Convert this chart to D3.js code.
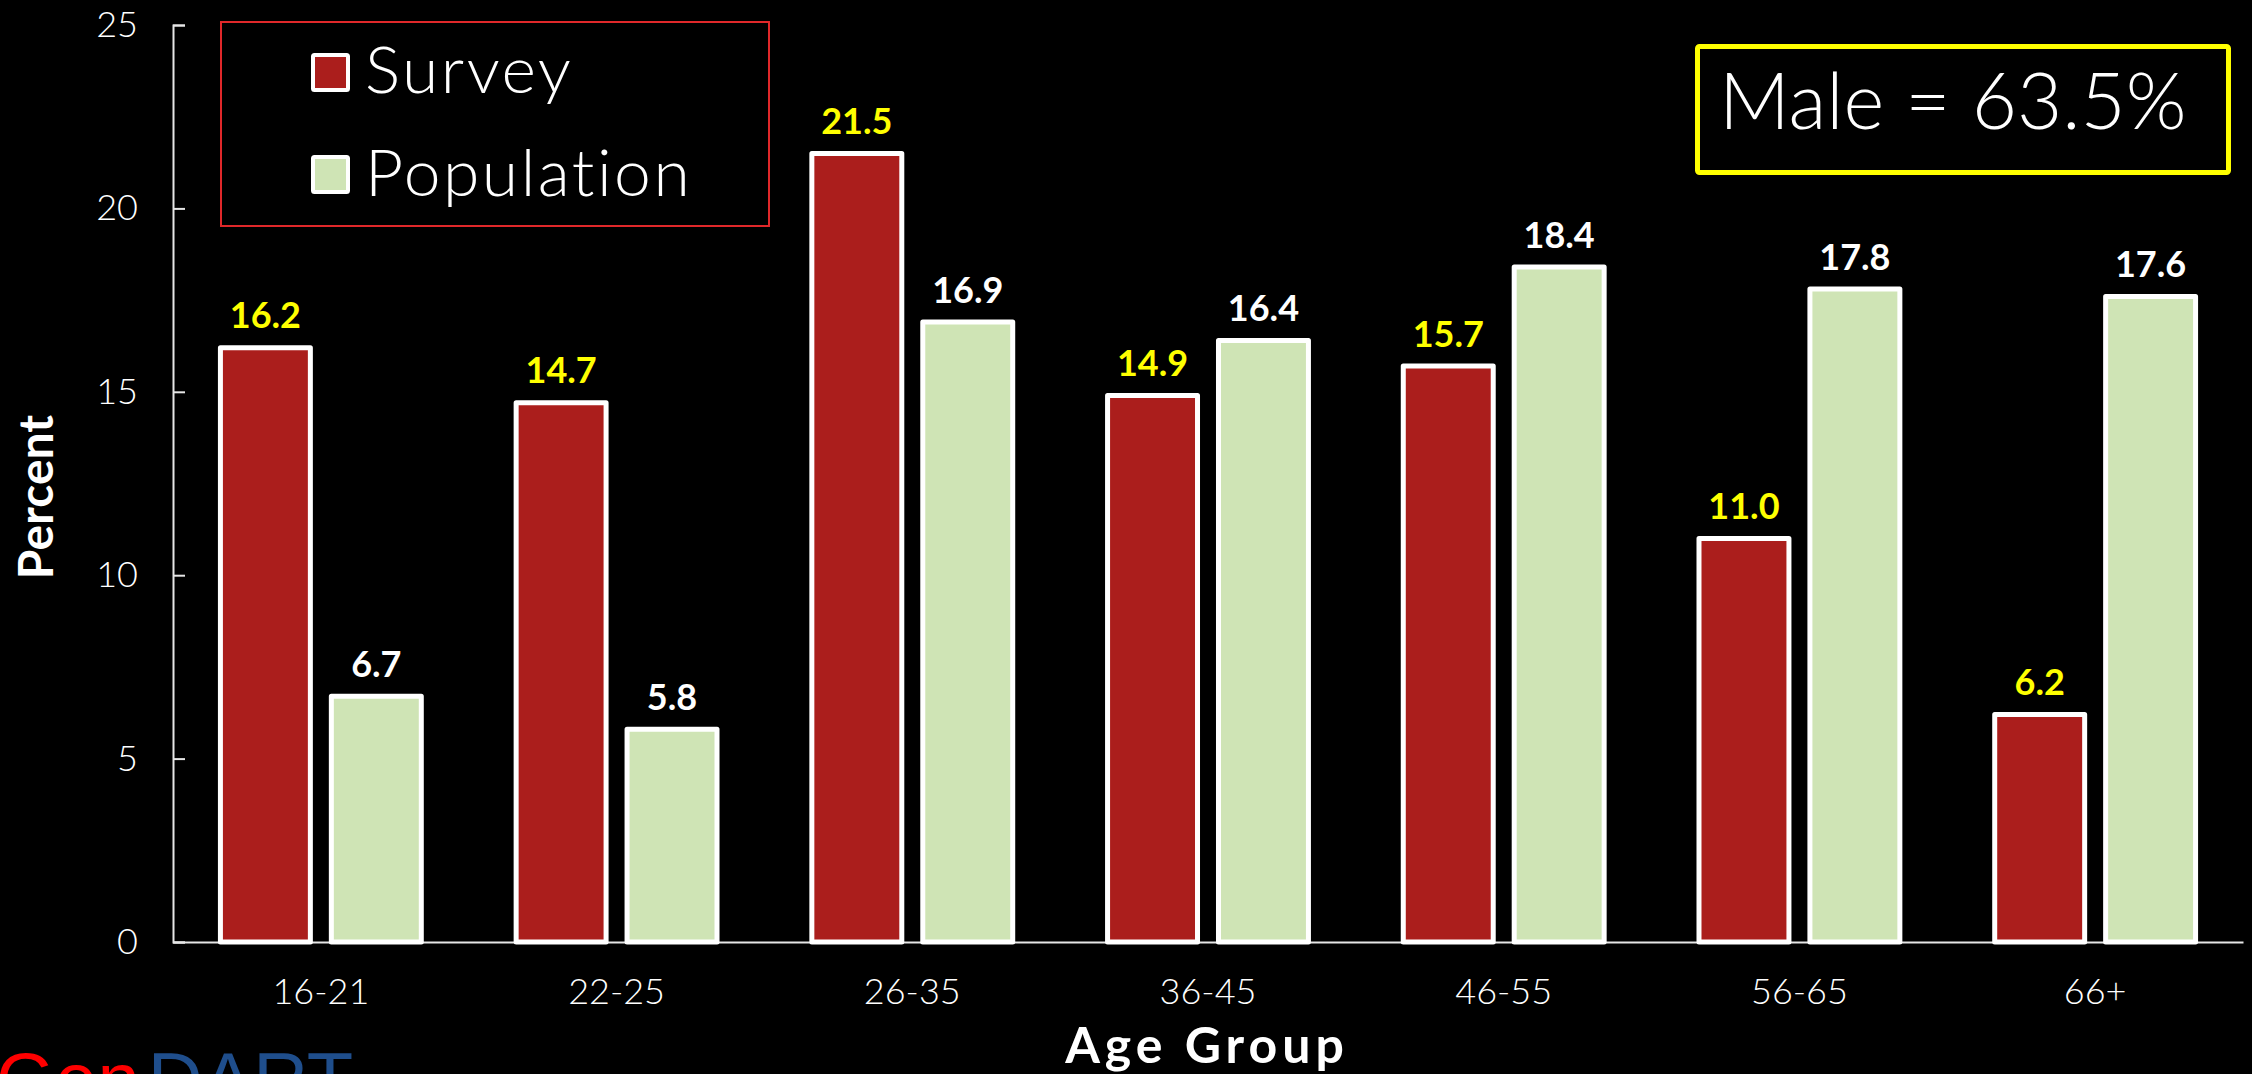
<!DOCTYPE html>
<html><head><meta charset="utf-8">
<script src="https://cdn.jsdelivr.net/npm/d3@7"></script>
<style>html,body{margin:0;padding:0;background:#000;}svg{display:block;}</style>
</head><body>
<script>
const categories = ["16-21","22-25","26-35","36-45","46-55","56-65","66+"];
const seriesNames = ["Survey","Population"];
const surveyValues = [16.2,14.7,21.5,14.9,15.7,11.0,6.2];
const populationValues = [6.7,5.8,16.9,16.4,18.4,17.8,17.6];
const yTicks = [0,5,10,15,20,25];
const seriesColors = {Survey:"#ab1e1c", Population:"#cfe4b5"};
const labelColors = {Survey:"#ffff00", Population:"#ffffff"};

const W = 2252, H = 1074;
const FONT = "Lato, 'Open Sans', sans-serif";
const svg = d3.select("body").append("svg").attr("width",W).attr("height",H);
svg.append("rect").attr("width",W).attr("height",H).attr("fill","#000");

const y = d3.scaleLinear().domain([0,25]).range([942,25]);
const x0 = d3.scaleBand().domain(categories).range([173,2243]).padding(0);
const x1 = d3.scaleBand().domain(seriesNames).range([0,x0.bandwidth()]).paddingInner(0.144).paddingOuter(0.405);

const data = categories.map((c,i)=>({cat:c, vals:[{s:"Survey",v:surveyValues[i]},{s:"Population",v:populationValues[i]}]}));

// y axis
const yAxis = d3.axisLeft(y).tickValues(yTicks).tickSizeInner(-12).tickSizeOuter(-12).tickPadding(35);
const gy = svg.append("g").attr("transform","translate(173,0)").call(yAxis);
gy.selectAll("path,line").attr("stroke","#e6e6e6").attr("stroke-width",2);
gy.selectAll("text").attr("fill","#fff").attr("font-size",36).attr("font-family",FONT).attr("font-weight",300);

// x axis
const xAxis = d3.axisBottom(x0).tickSize(0).tickSizeOuter(0).tickPadding(36);
const gx = svg.append("g").attr("transform","translate(0,942)").call(xAxis);
gx.select(".domain").attr("stroke","#e6e6e6").attr("stroke-width",2);
gx.selectAll("text").attr("fill","#fff").attr("font-size",36).attr("font-family",FONT).attr("font-weight",300);

// bars
const groups = svg.append("g").selectAll("g").data(data).join("g")
  .attr("transform",d=>`translate(${x0(d.cat)},0)`);
groups.selectAll("rect").data(d=>d.vals).join("rect")
  .attr("x",d=>x1(d.s)+2.5)
  .attr("width",x1.bandwidth()-5)
  .attr("y",d=>y(d.v))
  .attr("height",d=>y(0)-y(d.v))
  .attr("fill",d=>seriesColors[d.s])
  .attr("stroke","#fff").attr("stroke-width",5).attr("stroke-linejoin","round");
groups.selectAll("text").data(d=>d.vals).join("text")
  .attr("x",d=>x1(d.s)+x1.bandwidth()/2)
  .attr("y",d=>y(d.v)-19.5)
  .attr("text-anchor","middle")
  .attr("fill",d=>labelColors[d.s])
  .attr("font-size",36).attr("font-weight",700).attr("font-family",FONT)
  .text(d=>d.v.toFixed(1));

// axis titles
svg.append("text").attr("transform","translate(53,497) rotate(-90)")
  .attr("text-anchor","middle").attr("fill","#fff").attr("font-size",48)
  .attr("font-weight",700).attr("font-family",FONT).text("Percent");
svg.append("text").attr("x",1207).attr("y",1063).attr("text-anchor","middle")
  .attr("fill","#fff").attr("font-size",50).attr("font-weight",700)
  .attr("letter-spacing",5).attr("font-family",FONT).text("Age Group");

// legend
const lg = svg.append("g");
lg.append("rect").attr("x",221).attr("y",22).attr("width",548).attr("height",204)
  .attr("fill","none").attr("stroke","#e0282a").attr("stroke-width",2);
const legY = [55,157];
const legBase = [93,196];
seriesNames.forEach((s,i)=>{
  lg.append("rect").attr("x",313).attr("y",legY[i]).attr("width",35).attr("height",35)
    .attr("fill",seriesColors[s]).attr("stroke","#fff").attr("stroke-width",4).attr("rx",1.5);
  lg.append("text").attr("x",365).attr("y",legBase[i]).attr("fill","#fff")
    .attr("font-size",66).attr("font-weight",300).attr("letter-spacing",2.5)
    .attr("font-family",FONT).text(s);
});

// male annotation
svg.append("rect").attr("x",1697.5).attr("y",46.5).attr("width",531).attr("height",126)
  .attr("fill","none").attr("stroke","#ffff00").attr("stroke-width",5).attr("rx",2);
svg.append("text").attr("x",1719).attr("y",129).attr("fill","#fff")
  .attr("font-size",78).attr("font-weight",300).attr("font-family",FONT).text("Male = 63.5%");

// logo
const logo = svg.append("text").attr("x",-4).attr("y",1106)
  .attr("font-size",76).attr("font-family","'Liberation Sans', Arial, sans-serif");
logo.append("tspan").attr("fill","#ff0000").text("Gen");
logo.append("tspan").attr("fill","#1f4e8c").attr("dx",8).text("DART");
</script>
</body></html>
